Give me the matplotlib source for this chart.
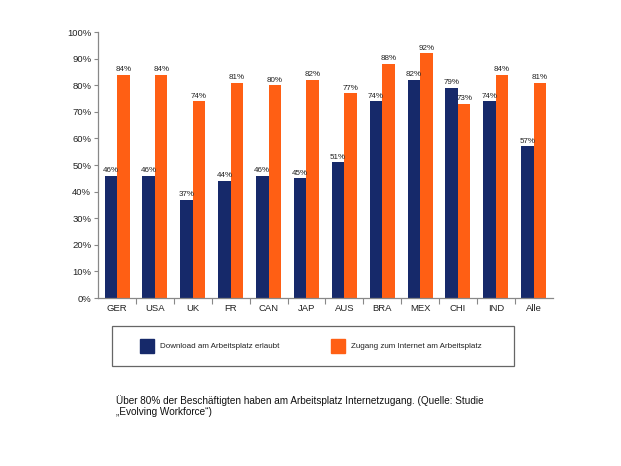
import numpy as np
import matplotlib.pyplot as plt
from matplotlib.patches import Rectangle

plt.rcParams['font.family'] = ['Liberation Sans', 'DejaVu Sans']

laender = ["GER", "USA", "UK", "FR", "CAN", "JAP", "AUS", "BRA", "MEX", "CHI", "IND", "Alle"]
download = [46, 46, 37, 44, 46, 45, 51, 74, 82, 79, 74, 57]
zugang = [84, 84, 74, 81, 80, 82, 77, 88, 92, 73, 84, 81]
yticks = np.arange(0, 101, 10)

blau = "#16296a"
orange = "#ff5f14"

fig = plt.figure(figsize=(6.21, 4.66), dpi=100)
ax = fig.add_axes([0.158, 0.3605, 0.732, 0.5705])

x = np.arange(len(laender))
w = 0.33
b1 = ax.bar(x - w/2, download, w, color=blau)
b2 = ax.bar(x + w/2, zugang, w, color=orange)

for xi, v in zip(x - w/2, download):
    ax.text(xi, v + 0.6, "%d%%" % v, ha="center", va="bottom", fontsize=5.8, color="#222222")
for xi, v in zip(x + w/2, zugang):
    ax.text(xi, v + 0.6, "%d%%" % v, ha="center", va="bottom", fontsize=5.8, color="#222222")

ax.set_xlim(-0.5, len(laender) - 0.5)
ax.set_ylim(0, 100)
ax.set_yticks(yticks)
ax.set_yticklabels(["%d%%" % t for t in yticks], fontsize=6.8, color="#222222")
ax.set_xticks(np.arange(0.5, len(laender) - 0.5, 1))
ax.set_xticks(x, minor=True)
ax.set_xticklabels([])
ax.set_xticklabels(laender, minor=True, fontsize=6.8, color="#222222")
ax.tick_params(axis="x", which="minor", length=0, pad=4)
ax.tick_params(axis="x", which="major", length=4, color="#888888", width=0.8)
ax.tick_params(axis="y", length=3, color="#888888", width=0.8, pad=2)
for s in ["top", "right"]:
    ax.spines[s].set_visible(False)
for s in ["left", "bottom"]:
    ax.spines[s].set_color("#888888")
    ax.spines[s].set_linewidth(0.9)

# Legende als Kasten
fig.patches.append(Rectangle((112/621, 1 - 366/466), 402/621, 40/466,
                             transform=fig.transFigure, fill=False,
                             edgecolor="#666666", linewidth=0.9))
fig.patches.append(Rectangle((140/621, 1 - 353/466), 14/621, 14/466,
                             transform=fig.transFigure, color=blau))
fig.patches.append(Rectangle((331/621, 1 - 353/466), 14/621, 14/466,
                             transform=fig.transFigure, color=orange))
fig.text(160/621, 1 - 346/466, "Download am Arbeitsplatz erlaubt", fontsize=5.8,
         va="center", color="#222222")
fig.text(351/621, 1 - 346/466, "Zugang zum Internet am Arbeitsplatz", fontsize=5.8,
         va="center", color="#222222")

fig.text(116/621, 1 - 406/466,
         "Über 80% der Beschäftigten haben am Arbeitsplatz Internetzugang. (Quelle: Studie\n„Evolving Workforce“)",
         fontsize=7.2, va="center", color="#111111", linespacing=1.1)

fig.savefig("out.png", dpi=100)
